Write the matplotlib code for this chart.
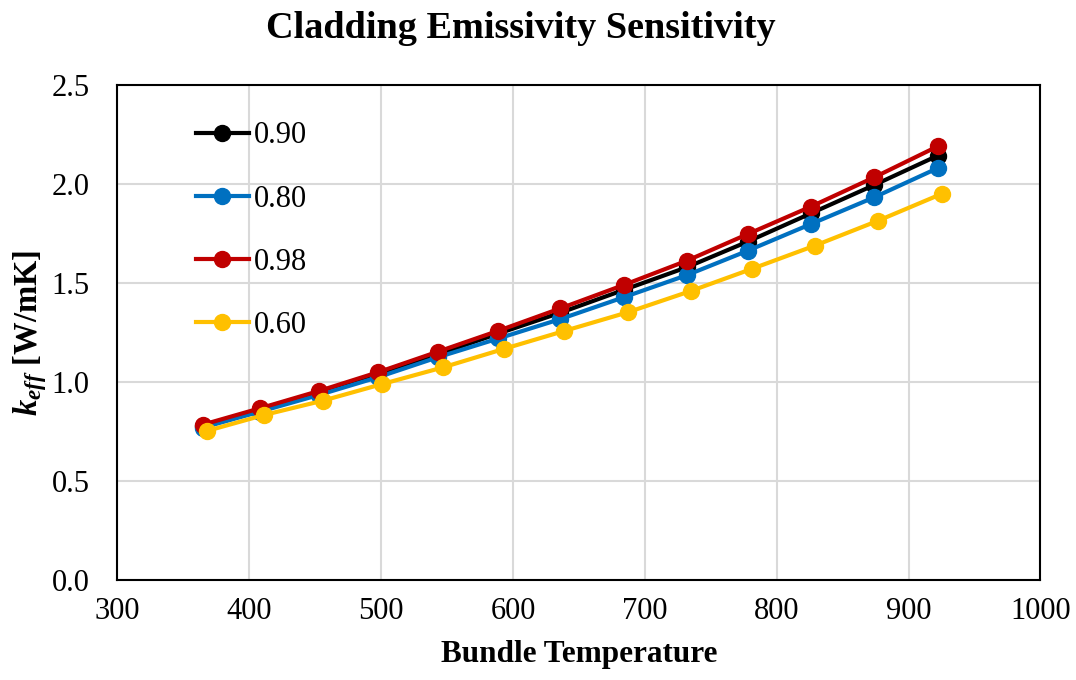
import matplotlib
matplotlib.use('Agg')
import matplotlib.pyplot as plt

plt.rcParams['font.family'] = ['Liberation Serif', 'DejaVu Serif']
plt.rcParams['mathtext.fontset'] = 'custom'
plt.rcParams['mathtext.it'] = 'Liberation Serif:bold:italic'
plt.rcParams['mathtext.rm'] = 'Liberation Serif:bold'

# bundle temperatures (yellow series sits a touch to the right)
temps = [365, 408, 453, 498, 543, 589, 636, 684, 732, 778, 826, 874, 922]
temps_060 = [368, 411, 456, 501, 547, 593, 639, 687, 735, 781, 829, 877, 925]

k_090 = [0.78, 0.86, 0.945, 1.04, 1.14, 1.245, 1.35, 1.465, 1.58, 1.709, 1.852, 1.995, 2.143]
k_080 = [0.77, 0.85, 0.935, 1.025, 1.125, 1.22, 1.318, 1.428, 1.54, 1.663, 1.798, 1.933, 2.08]
k_098 = [0.785, 0.867, 0.955, 1.05, 1.153, 1.259, 1.372, 1.49, 1.613, 1.747, 1.886, 2.034, 2.19]
k_060 = [0.753, 0.833, 0.906, 0.99, 1.074, 1.167, 1.258, 1.352, 1.46, 1.571, 1.689, 1.815, 1.95]

fig = plt.figure(figsize=(10.76, 6.8), dpi=100)
ax = fig.add_axes([0.109, 0.147, 0.858, 0.728])

style = dict(lw=3, marker='o', ms=11.5)
ax.plot(temps, k_090, color='black', label='0.90', **style)
ax.plot(temps, k_080, color='#0070C0', label='0.80', **style)
ax.plot(temps, k_098, color='#C00000', label='0.98', **style)
ax.plot(temps_060, k_060, color='#FFC000', label='0.60', **style)

ax.set_xlim(300, 1000)
ax.set_ylim(0, 2.5)
ax.set_xticks(range(300, 1001, 100))
ax.set_yticks([0.0, 0.5, 1.0, 1.5, 2.0, 2.5])
ax.set_yticklabels(['0.0', '0.5', '1.0', '1.5', '2.0', '2.5'])
ax.tick_params(axis='y', length=0, labelsize=22, pad=20)
ax.tick_params(axis='x', length=0, labelsize=22, pad=12)
ax.grid(True, color='#D9D9D9', lw=1.5)
ax.set_axisbelow(True)
for s in ax.spines.values():
    s.set_linewidth(1.5)

# title sits a bit left of the plot centre
fig.text(0.484, 0.958, 'Cladding Emissivity Sensitivity', fontsize=27.5,
         fontweight='bold', ha='center', va='center')
ax.set_xlabel('Bundle Temperature', fontsize=22.5, fontweight='bold', labelpad=10)
ax.set_ylabel(r'$k_{eff}$ [W/mK]', fontsize=23.5, fontweight='bold', labelpad=2)

ax.legend(loc='upper left', bbox_to_anchor=(0.055, 0.982), frameon=False, fontsize=22,
          handlelength=1.75, handletextpad=0.15, labelspacing=1.12)

plt.savefig('out.png', dpi=100)
